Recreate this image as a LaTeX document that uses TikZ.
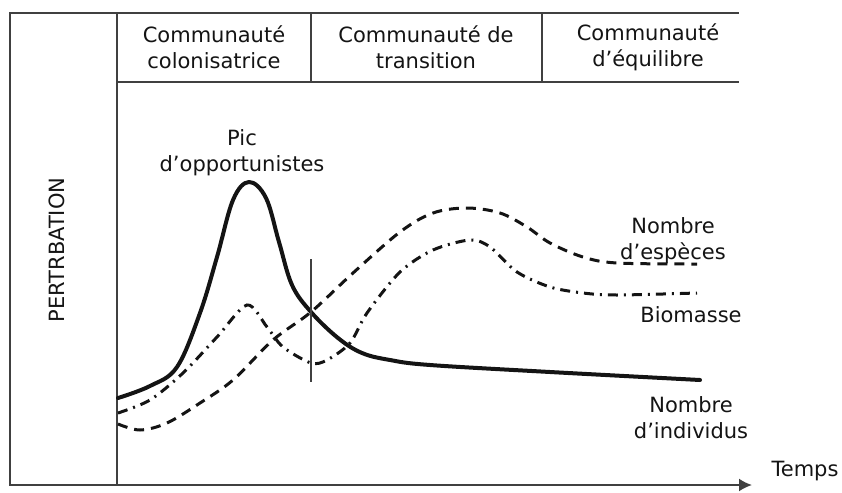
\documentclass[tikz,border=0pt]{standalone}
\usepackage{fontspec}
\setmainfont{DejaVu Sans}
\usepackage{tikz}
\usetikzlibrary{arrows.meta, positioning}
\usepackage{xcolor}
\definecolor{RichBlack}{gray}{0.08}
\definecolor{ScanGrey}{gray}{0.25}
\tikzset{%
  frame_line/.style={%
    draw=ScanGrey,%
    line width=2pt,%
    line cap=rect,%
  },
  header_text/.style={%
    align=center,%
    inner sep=0pt,%
    color=RichBlack,%
    font={\fontsize{21}{26}\selectfont},%
  },
  annotate/.style={%
    align=center,%
    inner sep=0pt,%
    color=RichBlack,%
    font={\fontsize{21}{26}\selectfont},%
  },
  individus_path/.style={%
    color=RichBlack,%
    line width=4pt,%
    line join=round,%
    line cap=round,%
  },
  especes_path/.style={%
    color=RichBlack,%
    line width=3pt,%
    dash pattern=on 10pt off 7pt,%
  },
  biomasse_path/.style={%
    color=RichBlack,%
    line width=3pt,%
    dash pattern=on 10pt off 6pt on 2pt off 6pt,%
  },
  arrow/.style={-{Latex[length=13pt, width=13pt]}},
}
\begin{document}
\begin{tikzpicture}[x=1pt, y=-1pt]
    \useasboundingbox (0,0) rectangle (842,492);

    % frame and header
    \coordinate (top_left) at (10,13);
    \coordinate (top_right) at (738,13);
    \coordinate (origin) at (10,485);
    \coordinate (time_tip) at (752,485);
    \coordinate (split_top) at (117,13);
    \coordinate (split_bottom) at (117,485);
    \coordinate (header_left) at (117,82);
    \coordinate (header_right) at (738,82);
    \coordinate (div1_top) at (311,13);
    \coordinate (div1_bottom) at (311,82);
    \coordinate (div2_top) at (542,13);
    \coordinate (div2_bottom) at (542,82);

    \draw [frame_line] (origin) -- (top_left) -- (top_right);
    \draw [frame_line] (split_top) -- (split_bottom);
    \draw [frame_line] (header_left) -- (header_right);
    \draw [frame_line] (div1_top) -- (div1_bottom);
    \draw [frame_line] (div2_top) -- (div2_bottom);
    \draw [frame_line, arrow] (origin) -- (time_tip);

    \node [header_text] (Colonisatrice) at (214,47) {%
      Communauté\\colonisatrice%
    };
    \node [header_text] (Transition) at (426,47) {%
      Communauté de\\transition%
    };
    \node [header_text] (Equilibre) at (648,47) {%
      Communauté\\d’équilibre%
    };
    \node [annotate, rotate=90] (Perturbation) at (57,250) {PERTRBATION};
    \node [annotate] (Temps) at (805,471) {Temps};

    % curves
    \draw [individus_path] plot [smooth, tension=0.6] coordinates {%
      (118,398) (150,386) (177,367) (200,313) (217,257) (233,200)
      (249,182) (266,198) (279,242) (292,285) (311,312)
      (338,338) (362,353) (390,360) (430,365) (550,372) (700,380)};
    \draw [especes_path] plot [smooth, tension=0.55] coordinates {%
      (118,424) (140,430) (167,423) (200,403) (233,380) (273,340)
      (311,312) (353,273) (400,232) (433,213) (467,208) (500,213)
      (527,227) (550,243) (583,257) (617,263) (697,264)};
    \draw [biomasse_path] plot [smooth, tension=0.5] coordinates {%
      (118,413) (150,400) (183,373) (217,337) (247,305) (267,327)
      (283,347) (311,363) (327,360) (350,343) (367,313) (400,272)
      (433,250) (470,240) (490,247) (517,272) (550,287) (583,293)
      (617,295) (697,293)};

    % crossing mark
    \coordinate (mark_top) at (311,259);
    \coordinate (mark_bottom) at (311,382);
    \draw [color=ScanGrey, line width=2pt] (mark_top) -- (mark_bottom);

    % labels
    \node [annotate] (Pic) at (242,153) {Pic\\d’opportunistes};
    \node [annotate] (Especes) at (673,241) {Nombre\\d’espèces};
    \node [annotate] (Biomasse) at (691,315) {Biomasse};
    \node [annotate] (Individus) at (691,418) {Nombre\\d’individus};
  \end{tikzpicture}
\end{document}
